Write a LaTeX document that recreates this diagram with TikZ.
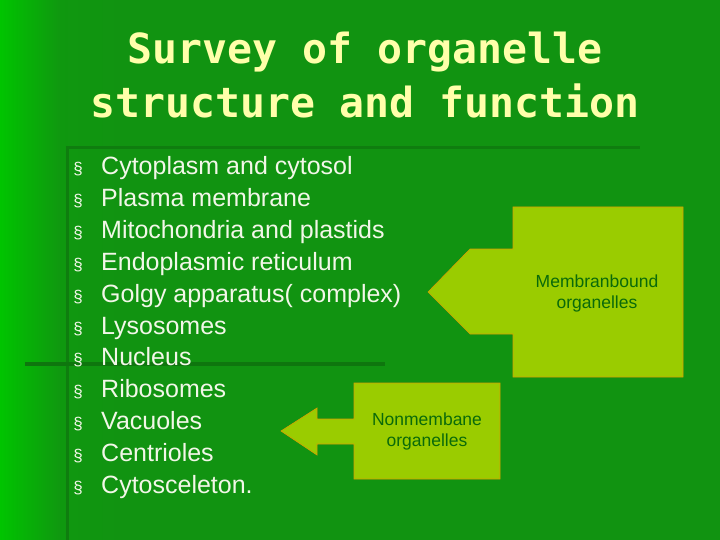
\documentclass[tikz,border=0pt]{standalone}
\usepackage{fontspec}
\setmainfont{Liberation Sans}
\newfontfamily\titlefont{DejaVu Sans Mono}
\definecolor{bgA}{HTML}{00C400}
\definecolor{bgB}{HTML}{119311}
\definecolor{ttl}{HTML}{FFFFAA}
\definecolor{txt}{HTML}{F2F7E8}
\definecolor{call}{HTML}{9ACC00}
\definecolor{calltxt}{HTML}{0A6A0A}
\begin{document}
\begin{tikzpicture}[x=1pt,y=-1pt,
  item/.style={anchor=base west,text=txt,font=\fontsize{25}{28}\selectfont,inner sep=0pt},
  bul/.style={anchor=base,text=txt,font=\fontsize{17}{17}\selectfont,inner sep=0pt},
  callout/.style={fill=call,draw=orange!60!call,line width=0.6pt},
  ctext/.style={text=calltxt,font=\fontsize{17.5}{21}\selectfont,align=center}]
\useasboundingbox (0,0) rectangle (720,540);
\shade[left color=bgA,right color=bgB,middle color=bgB!90!bgA] (0,0) rectangle (120,540);
\fill[bgB] (120,0) rectangle (720,540);
\fill[bgB!85!black] (68,146) rectangle (640,149);
\fill[bgB!85!black] (66,146) rectangle (69,540);
\fill[bgB!80!black] (25,362) rectangle (385,366);
\node[text=ttl,font=\titlefont\bfseries\fontsize{41.5}{54}\selectfont,align=center] (title) at (365,75) {Survey of organelle\\structure and  function};
\foreach \t [count=\i] in {Cytoplasm and cytosol,Plasma membrane,Mitochondria and plastids,Endoplasmic reticulum,Golgy apparatus( complex),Lysosomes,Nucleus,Ribosomes,Vacuoles,Centrioles,Cytosceleton.}{
  \node[bul] (b\i) at (78,{175+31.8*(\i-1)}) {§};
  \node[item] (t\i) at (101,{175+31.8*(\i-1)}) {\t};
}
\draw[callout] (513,207) -- (683,207) -- (683,377) -- (513,377) -- (513,334) -- (470,334) -- (428,292) -- (470,249) -- (513,249) -- cycle;
\node[ctext] (mb) at (597,293) {Membranbound\\organelles};
\draw[callout] (354,383) -- (500,383) -- (500,479) -- (354,479) -- (354,444) -- (317,444) -- (317,455) -- (281,431) -- (317,408) -- (317,419) -- (354,419) -- cycle;
\node[ctext] (nm) at (427,431) {Nonmembane\\organelles};
\end{tikzpicture}
\end{document}
